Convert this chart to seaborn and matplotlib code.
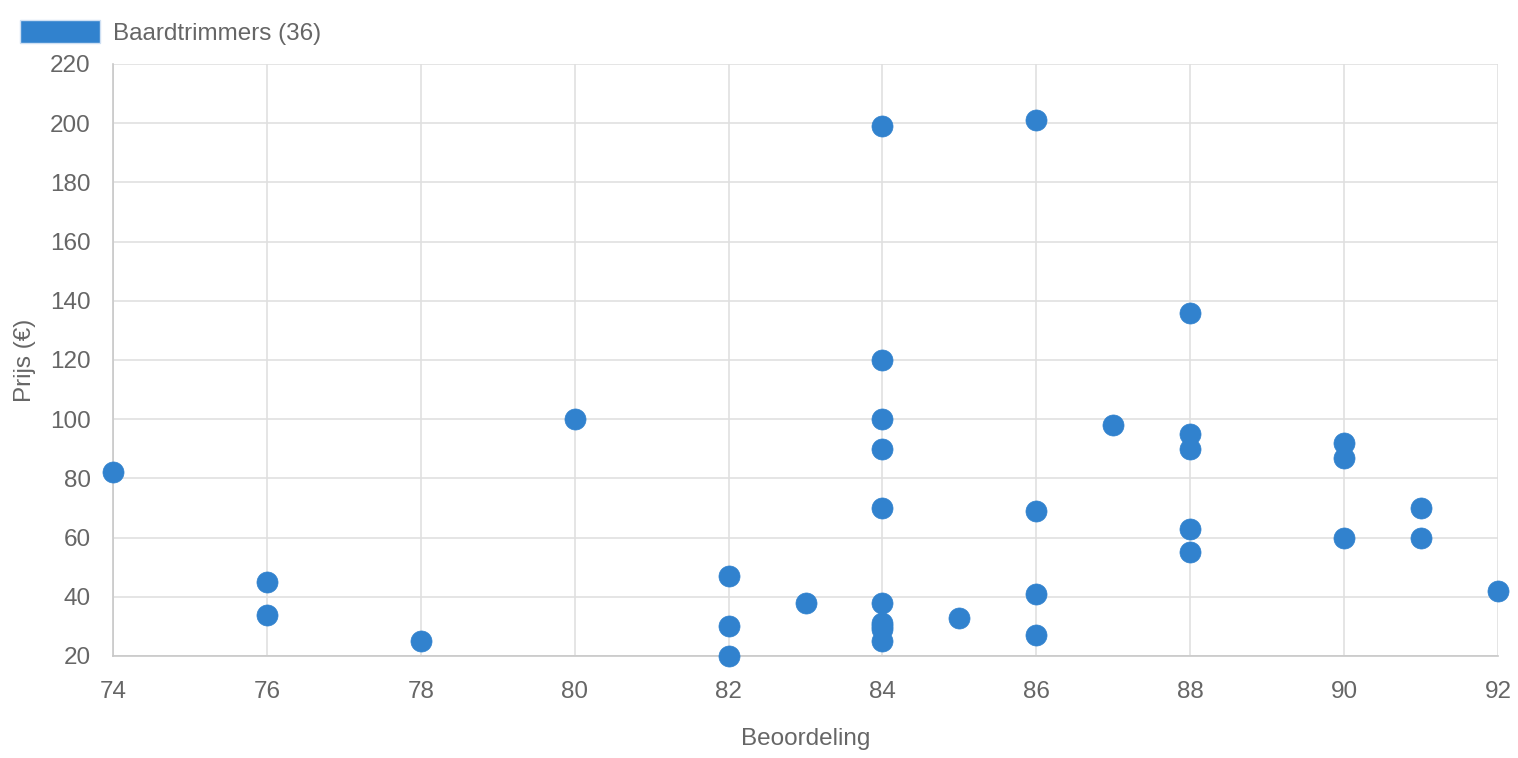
import pandas as pd
import seaborn as sns
import matplotlib.pyplot as plt
from matplotlib.patches import Patch

# Beoordeling (x) and Prijs (y) for each baardtrimmer
rating = [74, 76, 76, 78, 80, 82, 82, 82, 83,
          84, 84, 84, 84, 84, 84, 84, 84, 84, 84,
          85, 86, 86, 86, 86, 87,
          88, 88, 88, 88, 88, 90, 90, 90, 91, 91, 92]
price = [82, 45, 34, 25, 100, 47, 30, 20, 38,
         199, 120, 100, 90, 70, 38, 31, 30, 29, 25,
         33, 201, 69, 41, 27, 98,
         136, 95, 90, 63, 55, 92, 87, 60, 70, 60, 42]

x_ticks = list(range(74, 93, 2))
y_ticks = list(range(20, 221, 20))
series_name = "Baardtrimmers (36)"

df = pd.DataFrame({"Beoordeling": rating, "Prijs": price})

sns.set_theme(style="white")
plt.rcParams['font.family'] = ['Liberation Sans', 'DejaVu Sans']

blue = "#3182ce"
grid = "#e0e0e0"
txt = "#666666"
fs = 17.5

fig = plt.figure(figsize=(15.18, 7.58), dpi=100)
ax = fig.add_axes([113 / 1518, 102 / 758, 1385 / 1518, 592 / 758])

sns.scatterplot(data=df, x="Beoordeling", y="Prijs", ax=ax, s=230,
                color=blue, edgecolor=blue, linewidth=0.5, zorder=3, clip_on=False)

ax.set_xlim(74, 92)
ax.set_ylim(20, 220)
ax.set_xticks(x_ticks)
ax.set_yticks(y_ticks)
ax.grid(True, color=grid, linewidth=1.2)
ax.set_axisbelow(True)
for side in ["top", "right"]:
    ax.spines[side].set_visible(False)
for side in ["left", "bottom"]:
    ax.spines[side].set_color("#c8c8c8")
    ax.spines[side].set_linewidth(1.2)
ax.tick_params(axis="both", length=11, width=1.2, color=grid, labelsize=fs,
               labelcolor=txt)
ax.tick_params(axis="y", pad=5)
ax.tick_params(axis="x", pad=7)

ax.set_xlabel("Beoordeling", fontsize=fs, color=txt, labelpad=18)
ax.set_ylabel("Prijs (€)", fontsize=fs, color=txt, labelpad=10)

handle = Patch(facecolor=blue, edgecolor="#cfe0f3", linewidth=1)
fig.legend(handles=[handle], labels=[series_name], loc="upper left",
           bbox_to_anchor=(20 / 1518, 1 - 20 / 758), frameon=False,
           borderpad=0, borderaxespad=0,
           handlelength=3.3, handleheight=1.05, handletextpad=0.53,
           fontsize=fs, labelcolor=txt)

fig.savefig("out.png", dpi=100)
